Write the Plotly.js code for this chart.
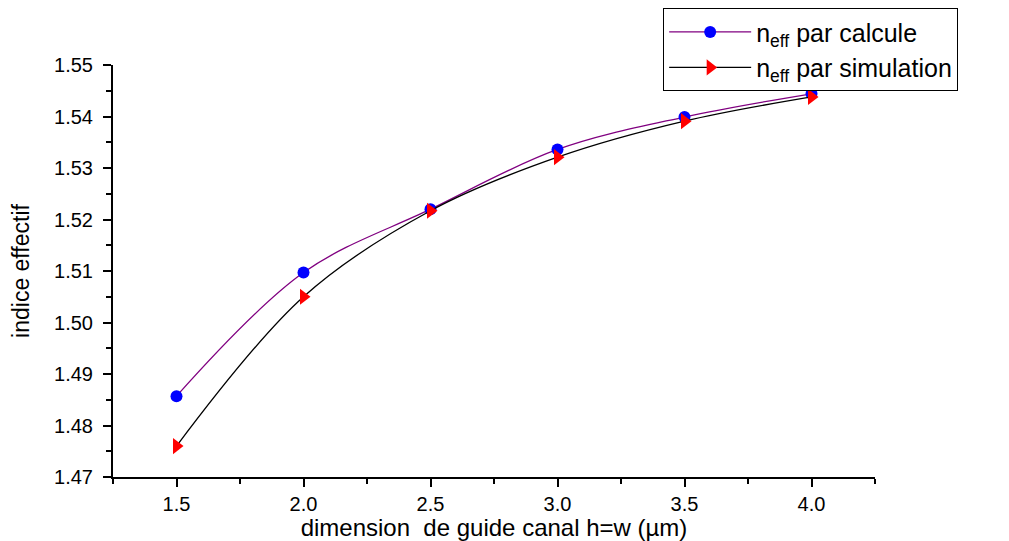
<!DOCTYPE html>
<html><head><meta charset="utf-8">
<script src="https://cdn.plot.ly/plotly-3.0.1.min.js"></script>
<style>html,body{margin:0;padding:0;background:#fff}</style>
</head><body>
<div id="chart" style="width:1009px;height:541px"></div>
<script>
const dims = [1.5, 2.0, 2.5, 3.0, 3.5, 4.0];
const neffCalcule = [1.4857, 1.5097, 1.5220, 1.5336, 1.5399, 1.5444];
const neffSimulation = [1.4760, 1.5050, 1.5217, 1.5321, 1.5391, 1.5438];
const seriesNames = ['n<sub>eff</sub> par calcule', 'n<sub>eff</sub> par simulation'];
const xTickVals = [1.5, 2.0, 2.5, 3.0, 3.5, 4.0];
const xTickText = ['1.5', '2.0', '2.5', '3.0', '3.5', '4.0'];
const yTickVals = [1.47, 1.48, 1.49, 1.50, 1.51, 1.52, 1.53, 1.54, 1.55];
const yTickText = ['1.47', '1.48', '1.49', '1.50', '1.51', '1.52', '1.53', '1.54', '1.55'];

const font = 'Liberation Sans, Arial, sans-serif';
const traces = [
  {x: dims, y: neffCalcule, name: seriesNames[0], mode: 'lines+markers',
   line: {color: '#800080', width: 1.3, shape: 'spline', smoothing: 1},
   marker: {symbol: 'circle', color: '#0000ff', size: 12}},
  {x: dims, y: neffSimulation, name: seriesNames[1], mode: 'lines+markers',
   line: {color: '#000000', width: 1.3, shape: 'spline', smoothing: 1},
   marker: {symbol: 'triangle-right', color: '#ff0000', size: 14}}
];
const layout = {
  width: 1009, height: 541,
  margin: {l: 113, r: 134, t: 65, b: 64, autoexpand: false},
  paper_bgcolor: '#fff', plot_bgcolor: '#fff',
  showlegend: true,
  legend: {x: 0.722, y: 1.138, xanchor: 'left', yanchor: 'top',
    bordercolor: '#000', borderwidth: 1, bgcolor: '#fff', itemwidth: 82,
    font: {family: font, size: 25, color: '#000'}, tracegroupgap: 0},
  xaxis: {range: [1.25, 4.25], tickvals: xTickVals, ticktext: xTickText,
    showgrid: false, zeroline: false, showline: true, linecolor: '#000', linewidth: 2,
    ticks: 'outside', ticklen: 8, tickwidth: 2, tickcolor: '#000',
    minor: {dtick: 0.25, tick0: 0, ticks: 'outside', ticklen: 5, tickwidth: 2, tickcolor: '#000', showgrid: false},
    tickfont: {family: font, size: 20, color: '#000'},
    title: {text: 'dimension  de guide canal h=w (µm)', font: {family: font, size: 24, color: '#000'}, standoff: 13}},
  yaxis: {range: [1.47, 1.55], tickvals: yTickVals, ticktext: yTickText,
    showgrid: false, zeroline: false, showline: true, linecolor: '#000', linewidth: 2,
    ticks: 'outside', ticklen: 8, tickwidth: 2, tickcolor: '#000', ticklabelstandoff: 6,
    minor: {dtick: 0.005, tick0: 1.47, ticks: 'outside', ticklen: 5, tickwidth: 2, tickcolor: '#000', showgrid: false},
    tickfont: {family: font, size: 20, color: '#000'},
    title: {text: 'indice effectif', font: {family: font, size: 23, color: '#000'}, standoff: 18}}
};
Plotly.newPlot('chart', traces, layout, {displayModeBar: false});
</script>
</body></html>
